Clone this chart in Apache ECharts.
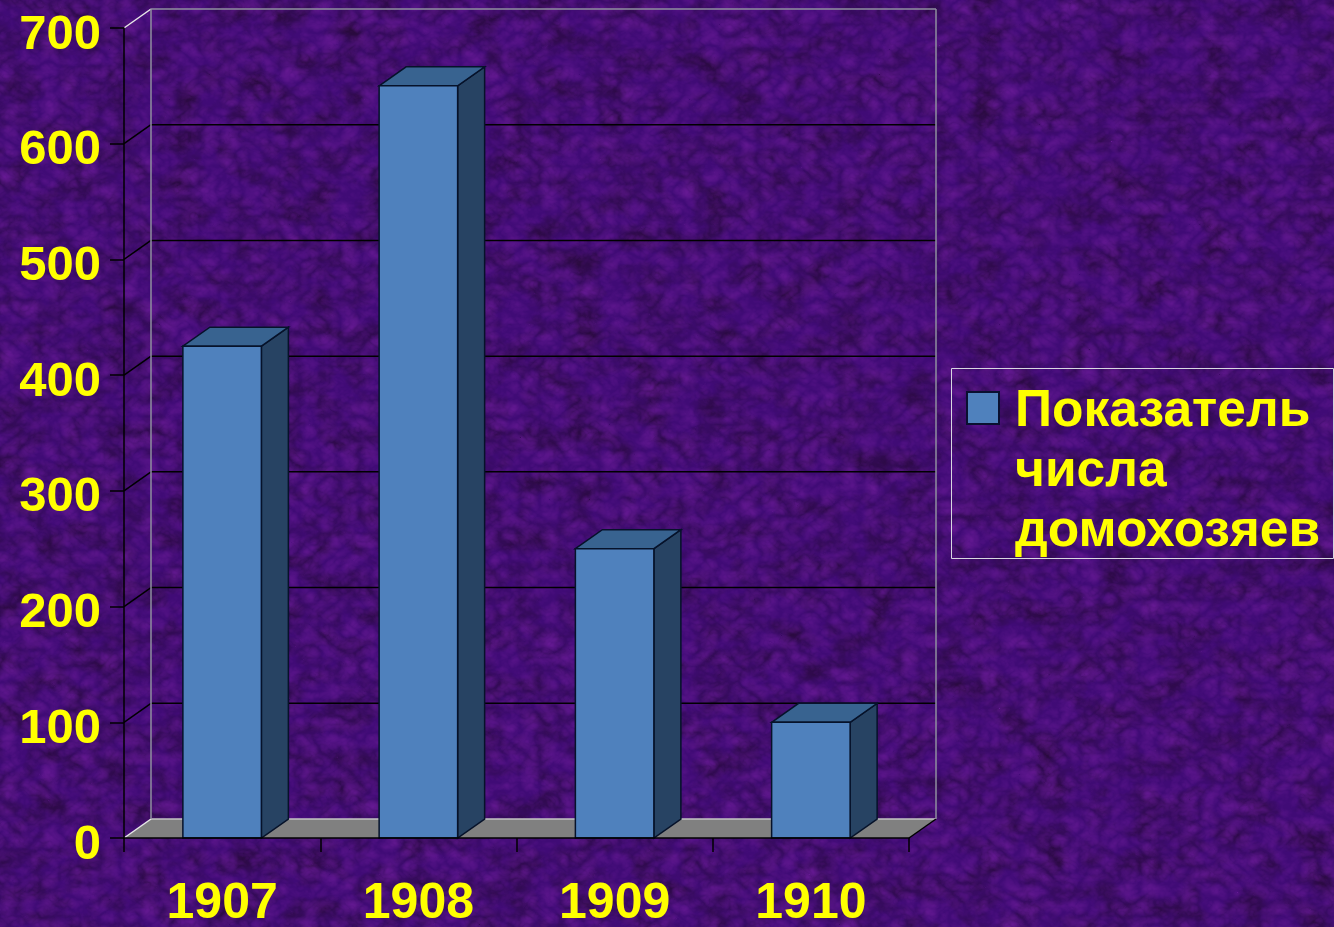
<!DOCTYPE html>
<html><head><meta charset="utf-8">
<style>
html,body{margin:0;padding:0;width:1334px;height:927px;overflow:hidden;background-color:#3e0a74;}
#bg{position:absolute;left:0;top:0;width:1334px;height:927px;}
#c{position:absolute;left:0;top:0;width:1334px;height:927px;}
</style>
<script src="https://cdn.jsdelivr.net/npm/echarts@6/dist/echarts.min.js"></script>
</head><body>
<svg id="bg" xmlns="http://www.w3.org/2000/svg" width="1334" height="927">
<filter id="t1" x="0" y="0" width="100%" height="100%" color-interpolation-filters="sRGB">
<feTurbulence type="fractalNoise" baseFrequency="0.03 0.04" numOctaves="4" seed="7"/>
<feColorMatrix type="matrix" values="0 0 0 0 0.16  0 0 0 0 0.04  0 0 0 0 0.24  1.2 1.2 0 0 -0.95"/>
</filter>
<filter id="t2" x="0" y="0" width="100%" height="100%" color-interpolation-filters="sRGB">
<feTurbulence type="turbulence" baseFrequency="0.05 0.06" numOctaves="3" seed="21"/>
<feColorMatrix type="matrix" values="0 0 0 0 0.40  0 0 0 0 0.10  0 0 0 0 0.58  1.2 0 0 0 -0.12"/>
</filter>
<rect width="1334" height="927" fill="#400b76"/>
<rect width="1334" height="927" filter="url(#t1)"/>
<rect width="1334" height="927" filter="url(#t2)"/>
</svg>
<div id="c"></div>
<script>
const categories = ['1907', '1908', '1909', '1910'];
const values = [425, 650, 250, 100];
const seriesName = 'Показатель\nчисла\nдомохозяев';
const yTicks = [0, 100, 200, 300, 400, 500, 600, 700];

const DX = 27, DY = -19;
const chart = echarts.init(document.getElementById('c'), null, {renderer: 'canvas', width: 1334, height: 927});

function quad(points, fill, stroke, lw) {
  return {type: 'polygon', shape: {points}, style: {fill, stroke, lineWidth: lw}};
}
function line(x1, y1, x2, y2, stroke, lw) {
  return {type: 'line', shape: {x1, y1, x2, y2}, style: {stroke, lineWidth: lw}};
}

chart.setOption({
  animation: false,
  backgroundColor: 'transparent',
  grid: {left: 124, top: 28, width: 785, height: 810, containLabel: false, outerBoundsMode: 'none'},
  graphic: [{
    type: 'rect', left: 951, top: 368, z: 1, silent: true,
    shape: {width: 382, height: 190},
    style: {fill: 'transparent', stroke: '#d8d8e0', lineWidth: 1}
  }],
  xAxis: {
    type: 'category', data: categories, z: 6,
    axisLine: {lineStyle: {color: '#000', width: 1.5}},
    axisTick: {show: true, length: 14, alignWithLabel: false, lineStyle: {color: '#000', width: 1.5}},
    axisLabel: {color: '#ffff00', fontFamily: 'Liberation Sans', fontWeight: 'bold', fontSize: 50, margin: 41}
  },
  yAxis: {
    type: 'value', min: 0, max: 700, interval: 100, z: 6,
    splitLine: {show: false},
    axisLine: {show: true, lineStyle: {color: '#000', width: 1.5}},
    axisTick: {show: true, length: 14, lineStyle: {color: '#000', width: 1.5}},
    axisLabel: {color: '#ffff00', fontFamily: 'Liberation Sans', fontWeight: 'bold', fontSize: 49, margin: 23, verticalAlign: 'top', lineHeight: 14}
  },
  legend: {
    show: true, left: 951, top: 368, orient: 'vertical',
    data: [seriesName],
    padding: [14, 14, 14, 15],
    borderWidth: 0,
    icon: 'path://M0,0H32V32H0Z M0,160H0Z',
    itemWidth: 32, itemHeight: 162, itemGap: 0,
    itemStyle: {borderColor: '#0a1030', borderWidth: 2},
    textStyle: {color: '#ffff00', fontFamily: 'Liberation Sans', fontWeight: 'bold', fontSize: 51.5, lineHeight: 60, padding: [0, 0, 0, 11]},
    selectedMode: false
  },
  series: [
    {
      name: 'wall', type: 'custom', z: 1, silent: true,
      coordinateSystem: 'cartesian2d',
      data: yTicks.map(v => [0, v]),
      renderItem(params, api) {
        const cs = params.coordSys;
        const y = api.coord([0, api.value(1)])[1];
        const v = api.value(1);
        const children = [];
        const xl = cs.x, xr = cs.x + cs.width;
        if (v === 0) {
          children.push(quad([[xl, y], [xl + DX, y + DY], [xr + DX, y + DY], [xr, y]], '#808080', null, 0));
          children.push(line(xl + DX, y + DY, xr + DX, y + DY, '#c4c4c4', 1.5));
          children.push(line(xl, y, xl + DX, y + DY, '#e8e8e8', 1.5));
          children.push(line(xr, y, xr + DX, y + DY, '#000', 1.5));
        } else if (v === 700) {
          children.push(line(xl + DX, y + DY, xr + DX, y + DY, '#8f8f9f', 1.5));
          children.push(line(xl, y, xl + DX, y + DY, '#e8e8e8', 1.5));
          children.push(line(xl + DX, y + DY, xl + DX, cs.y + cs.height + DY, '#8f8f9f', 1.5));
          children.push(line(xr + DX, y + DY, xr + DX, cs.y + cs.height + DY, '#8f8f9f', 1.5));
        } else {
          children.push(line(xl + DX, y + DY, xr + DX, y + DY, '#000', 1.5));
          children.push(line(xl, y, xl + DX, y + DY, '#000', 1.5));
        }
        return {type: 'group', children};
      }
    },
    {
      name: seriesName, type: 'custom', z: 3,
      coordinateSystem: 'cartesian2d',
      itemStyle: {color: '#4f81bd'},
      encode: {x: 0, y: 1},
      data: categories.map((c, i) => [c, values[i]]),
      renderItem(params, api) {
        const top = api.coord([api.value(0), api.value(1)]);
        const base = api.coord([api.value(0), 0]);
        const w = api.size([1, 0])[0] * 0.4;
        const x0 = top[0] - w / 2, x1 = top[0] + w / 2, yt = top[1], yb = base[1];
        const s = '#06122a';
        return {type: 'group', children: [
          quad([[x1, yt], [x1 + DX, yt + DY], [x1 + DX, yb + DY], [x1, yb]], '#274363', s, 1.5),
          quad([[x0, yt], [x0 + DX, yt + DY], [x1 + DX, yt + DY], [x1, yt]], '#386390', s, 1.5),
          {type: 'rect', shape: {x: x0, y: yt, width: w, height: yb - yt},
           style: {fill: '#4f81bd', stroke: s, lineWidth: 1.5}}
        ]};
      }
    }
  ]
});
</script>
</body></html>
